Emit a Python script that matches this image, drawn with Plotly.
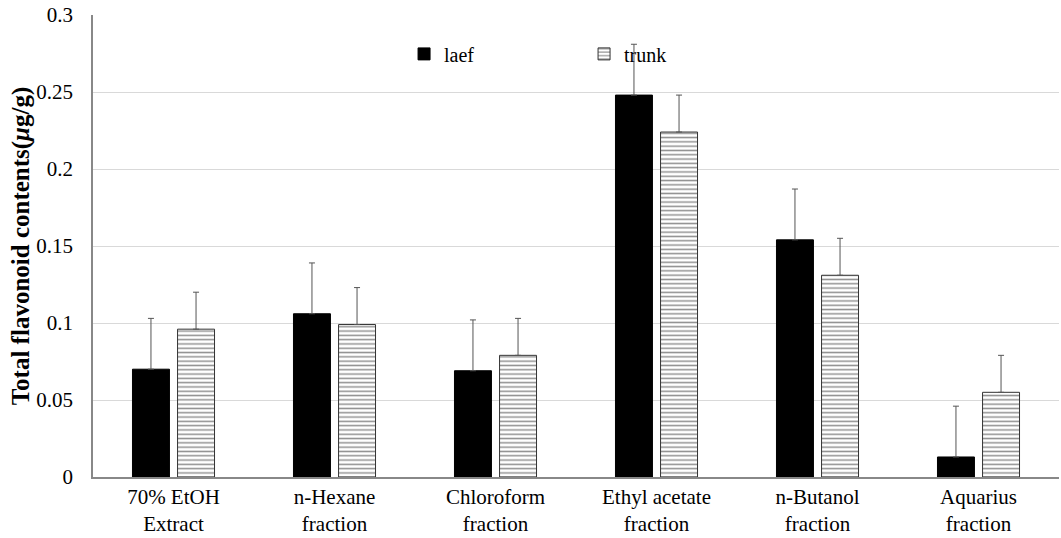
import plotly.graph_objects as go

categories = ["70% EtOH<br>Extract", "n-Hexane<br>fraction", "Chloroform<br>fraction",
              "Ethyl acetate<br>fraction", "n-Butanol<br>fraction", "Aquarius<br>fraction"]
leaf_values = [0.070, 0.106, 0.069, 0.248, 0.154, 0.013]
leaf_errors = [0.033, 0.033, 0.033, 0.033, 0.033, 0.033]
trunk_values = [0.096, 0.099, 0.079, 0.224, 0.131, 0.055]
trunk_errors = [0.024, 0.024, 0.024, 0.024, 0.024, 0.024]
y_ticks = [0, 0.05, 0.1, 0.15, 0.2, 0.25, 0.3]
y_tick_text = ["0", "0.05", "0.1", "0.15", "0.2", "0.25", "0.3"]

serif = "Liberation Serif"
err_style = dict(type="data", symmetric=False, color="#555555",
                 thickness=1, width=3)

fig = go.Figure()
fig.add_trace(go.Bar(
    name="laef", x=categories, y=leaf_values,
    marker=dict(color="black", line=dict(color="black", width=1)),
    error_y=dict(err_style, array=leaf_errors, arrayminus=[0] * len(leaf_errors)),
))
fig.add_trace(go.Bar(
    name="trunk", x=categories, y=trunk_values,
    marker=dict(color="white", line=dict(color="#333333", width=1),
                pattern=dict(shape="-", fgcolor="#222222", bgcolor="white",
                             size=4.3, solidity=0.35)),
    error_y=dict(err_style, array=trunk_errors, arrayminus=[0] * len(trunk_errors)),
))

fig.update_layout(
    width=1061, height=538,
    margin=dict(l=93, r=2, t=15, b=61),
    paper_bgcolor="white", plot_bgcolor="white",
    barmode="group", bargap=0.44, bargroupgap=0.18,
    font=dict(family=serif, color="black", size=20),
    showlegend=True,
    legend=dict(orientation="h", x=0.322, y=0.958, xanchor="left", yanchor="top",
                font=dict(size=20, family=serif), bgcolor="rgba(0,0,0,0)",
                entrywidth=135, entrywidthmode="pixels", itemwidth=30,
                traceorder="normal"),
    xaxis=dict(showline=True, linecolor="#888888", linewidth=1.5, ticks="",
               tickfont=dict(size=21, family=serif), showgrid=False),
    yaxis=dict(range=[0, 0.3], tickvals=y_ticks, ticktext=y_tick_text,
               showline=True, linecolor="#888888", linewidth=1.5,
               showgrid=True, gridcolor="#d9d9d9", gridwidth=1,
               tickfont=dict(size=21, family=serif), ticks="", ticklen=0,
               ticklabelstandoff=14, zeroline=False,
               title=dict(text="<b>Total flavonoid contents(<i>μ</i>g/g)</b>",
                          font=dict(size=25, family=serif), standoff=0)),
)

fig.write_html("out.html")
